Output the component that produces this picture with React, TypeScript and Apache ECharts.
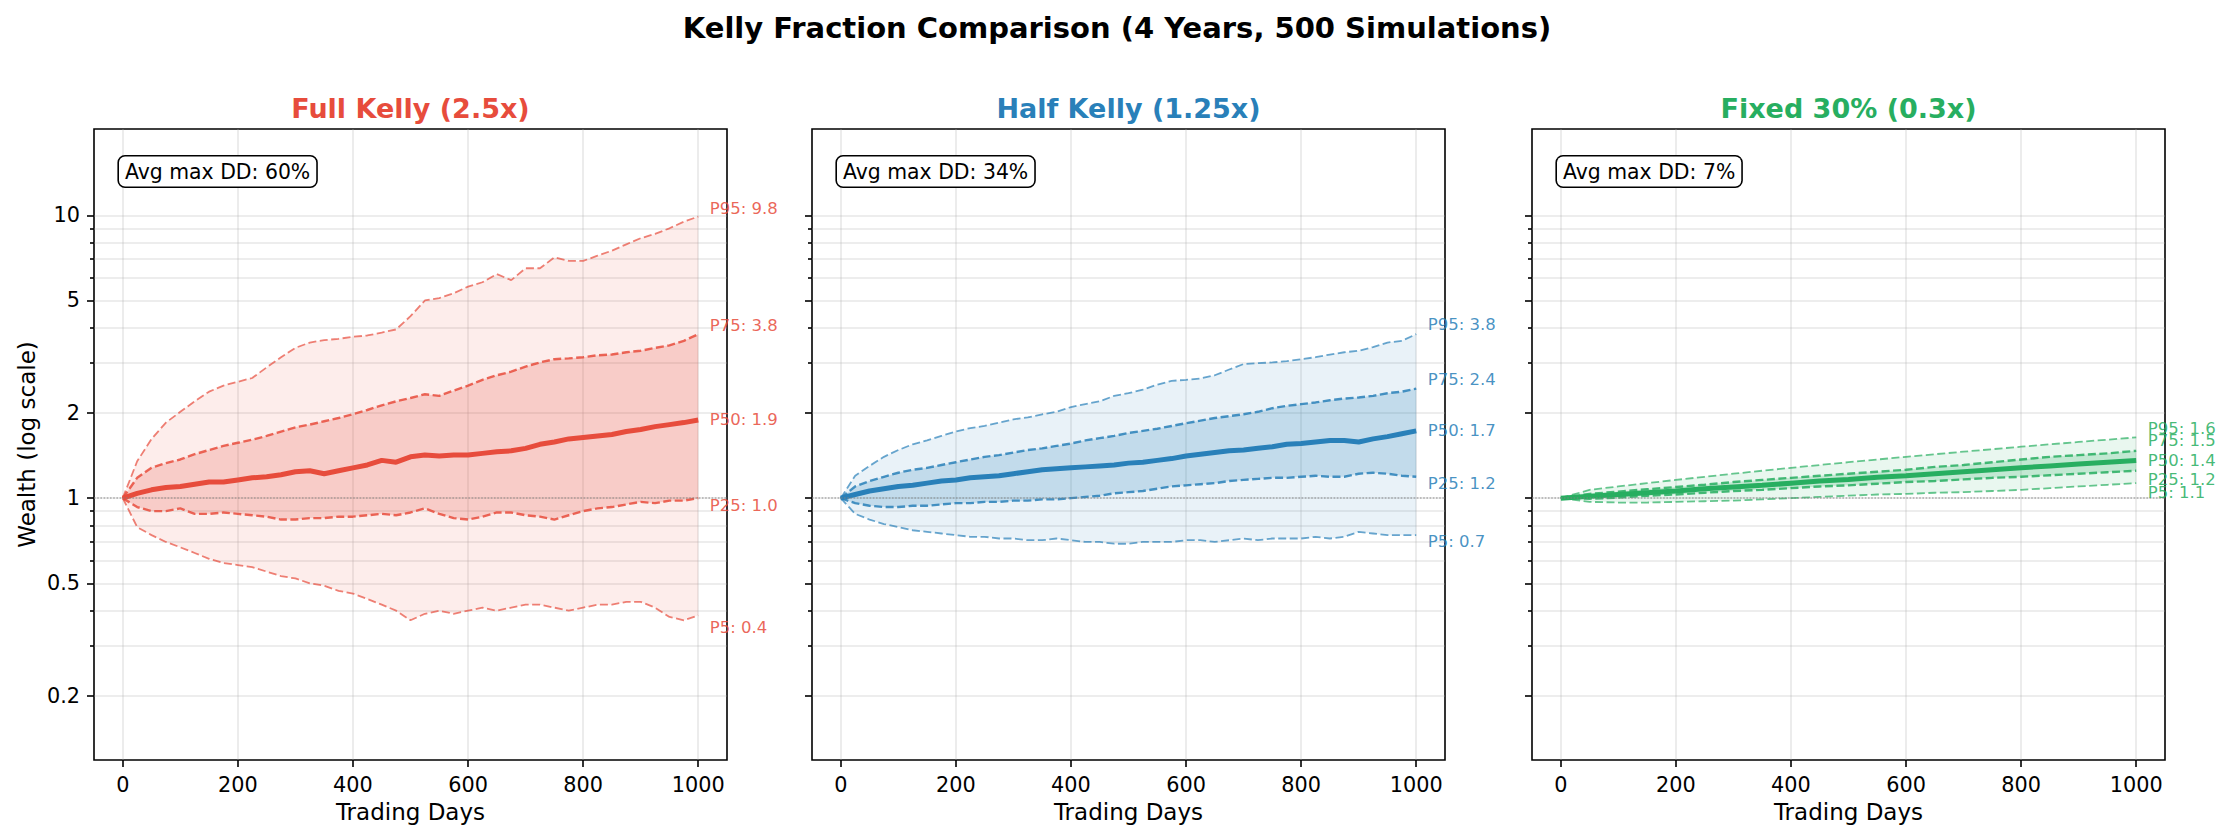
import React, { useEffect, useRef } from "react";
import * as echarts from "echarts";

// ---------- data ----------
const days = [0, 25, 50, 75, 100, 125, 150, 175, 200, 225, 250, 275, 300, 325, 350, 375, 400, 425, 450, 475, 500, 525, 550, 575, 600, 625, 650, 675, 700, 725, 750, 775, 800, 825, 850, 875, 900, 925, 950, 975, 1000];
const daysFixed = [0, 50, 100, 150, 200, 250, 300, 350, 400, 450, 500, 550, 600, 650, 700, 750, 800, 850, 900, 950, 1000];

const fullP95 = [1.0, 1.35, 1.62, 1.85, 2.02, 2.2, 2.38, 2.5, 2.58, 2.66, 2.9, 3.15, 3.4, 3.55, 3.62, 3.66, 3.72, 3.76, 3.85, 3.95, 4.4, 5.0, 5.1, 5.3, 5.6, 5.8, 6.2, 5.9, 6.5, 6.5, 7.1, 6.9, 6.9, 7.2, 7.5, 7.9, 8.3, 8.6, 9.0, 9.5, 9.9];
const fullP75 = [1.0, 1.18, 1.28, 1.33, 1.37, 1.43, 1.48, 1.53, 1.57, 1.61, 1.66, 1.72, 1.78, 1.82, 1.87, 1.92, 1.98, 2.05, 2.13, 2.2, 2.26, 2.33, 2.3, 2.4, 2.5, 2.62, 2.72, 2.8, 2.92, 3.02, 3.1, 3.12, 3.15, 3.2, 3.22, 3.28, 3.32, 3.4, 3.47, 3.6, 3.8];
const fullP50 = [1.0, 1.04, 1.07, 1.09, 1.1, 1.12, 1.14, 1.14, 1.16, 1.18, 1.19, 1.21, 1.24, 1.25, 1.22, 1.25, 1.28, 1.31, 1.36, 1.34, 1.4, 1.42, 1.41, 1.42, 1.42, 1.44, 1.46, 1.47, 1.5, 1.55, 1.58, 1.62, 1.64, 1.66, 1.68, 1.72, 1.75, 1.79, 1.82, 1.85, 1.89];
const fullP25 = [1.0, 0.93, 0.9, 0.9, 0.92, 0.88, 0.88, 0.89, 0.88, 0.87, 0.86, 0.84, 0.84, 0.85, 0.85, 0.86, 0.86, 0.87, 0.88, 0.87, 0.89, 0.92, 0.88, 0.85, 0.84, 0.86, 0.89, 0.89, 0.87, 0.86, 0.84, 0.87, 0.9, 0.92, 0.93, 0.95, 0.97, 0.96, 0.98, 0.98, 1.0];
const fullP5 = [1.0, 0.79, 0.74, 0.7, 0.67, 0.64, 0.61, 0.59, 0.58, 0.57, 0.55, 0.53, 0.52, 0.5, 0.49, 0.47, 0.46, 0.44, 0.42, 0.4, 0.37, 0.39, 0.4, 0.39, 0.4, 0.41, 0.4, 0.41, 0.42, 0.42, 0.41, 0.4, 0.41, 0.42, 0.42, 0.43, 0.43, 0.41, 0.38, 0.37, 0.385];

const halfP95 = [1.0, 1.2, 1.3, 1.4, 1.48, 1.55, 1.6, 1.66, 1.72, 1.77, 1.8, 1.85, 1.9, 1.93, 1.98, 2.02, 2.1, 2.15, 2.2, 2.3, 2.35, 2.42, 2.52, 2.6, 2.62, 2.65, 2.72, 2.85, 2.98, 3.0, 3.02, 3.05, 3.1, 3.15, 3.22, 3.28, 3.32, 3.42, 3.55, 3.6, 3.8];
const halfP75 = [1.0, 1.1, 1.15, 1.19, 1.23, 1.26, 1.28, 1.31, 1.34, 1.37, 1.4, 1.42, 1.45, 1.48, 1.5, 1.53, 1.56, 1.6, 1.63, 1.66, 1.7, 1.73, 1.76, 1.8, 1.84, 1.88, 1.92, 1.95, 1.98, 2.02, 2.08, 2.12, 2.15, 2.18, 2.22, 2.25, 2.27, 2.3, 2.35, 2.38, 2.44];
const halfP50 = [1.0, 1.03, 1.06, 1.08, 1.1, 1.11, 1.13, 1.15, 1.16, 1.18, 1.19, 1.2, 1.22, 1.24, 1.26, 1.27, 1.28, 1.29, 1.3, 1.31, 1.33, 1.34, 1.36, 1.38, 1.41, 1.43, 1.45, 1.47, 1.48, 1.5, 1.52, 1.55, 1.56, 1.58, 1.6, 1.6, 1.58, 1.62, 1.65, 1.69, 1.73];
const halfP25 = [1.0, 0.96, 0.94, 0.93, 0.93, 0.94, 0.94, 0.95, 0.96, 0.96, 0.97, 0.97, 0.98, 0.98, 0.99, 0.99, 1.0, 1.01, 1.02, 1.04, 1.05, 1.06, 1.08, 1.1, 1.11, 1.12, 1.13, 1.15, 1.16, 1.17, 1.18, 1.18, 1.19, 1.2, 1.19, 1.19, 1.22, 1.23, 1.22, 1.2, 1.19];
const halfP5 = [1.0, 0.88, 0.84, 0.81, 0.79, 0.77, 0.76, 0.75, 0.74, 0.73, 0.73, 0.72, 0.72, 0.71, 0.71, 0.72, 0.71, 0.7, 0.7, 0.69, 0.69, 0.7, 0.7, 0.7, 0.71, 0.71, 0.7, 0.71, 0.72, 0.71, 0.72, 0.72, 0.72, 0.73, 0.72, 0.73, 0.76, 0.75, 0.74, 0.74, 0.74];

const fixedP95 = [1.0, 1.07, 1.1, 1.13, 1.16, 1.19, 1.22, 1.25, 1.28, 1.31, 1.34, 1.37, 1.4, 1.43, 1.46, 1.49, 1.52, 1.55, 1.58, 1.61, 1.64];
const fixedP75 = [1.0, 1.035, 1.055, 1.075, 1.095, 1.115, 1.14, 1.16, 1.18, 1.2, 1.22, 1.24, 1.26, 1.29, 1.31, 1.34, 1.37, 1.4, 1.42, 1.44, 1.47];
const fixedP50 = [1.0, 1.015, 1.03, 1.045, 1.06, 1.08, 1.095, 1.11, 1.13, 1.15, 1.165, 1.185, 1.2, 1.22, 1.24, 1.26, 1.28, 1.3, 1.32, 1.34, 1.36];
const fixedP25 = [1.0, 0.995, 1.005, 1.02, 1.03, 1.045, 1.06, 1.07, 1.085, 1.1, 1.11, 1.125, 1.14, 1.15, 1.165, 1.18, 1.19, 1.205, 1.22, 1.235, 1.25];
const fixedP5 = [1.0, 0.97, 0.965, 0.965, 0.97, 0.975, 0.98, 0.99, 1.0, 1.01, 1.02, 1.03, 1.035, 1.045, 1.05, 1.06, 1.07, 1.085, 1.1, 1.115, 1.13];

const percentileNames = ["P95", "P75", "P50", "P25", "P5"];
const fullEndTexts = ["9.8", "3.8", "1.9", "1.0", "0.4"];
const halfEndTexts = ["3.8", "2.4", "1.7", "1.2", "0.7"];
const fixedEndTexts = ["1.6", "1.5", "1.4", "1.2", "1.1"];
const fullLabelAnchors = [10.6, 4.09, 1.89, 0.94, 0.35];
const halfLabelAnchors = [4.12, 2.63, 1.73, 1.13, 0.7];
const fixedLabelAnchors = [1.77, 1.6, 1.355, 1.167, 1.05];
const labelDay = 1020;

const panelTitles = ["Full Kelly (2.5x)", "Half Kelly (1.25x)", "Fixed 30% (0.3x)"];
const panelColors = ["#e74c3c", "#2980b9", "#27ae60"];
const avgMaxDD = ["60%", "34%", "7%"];
const suptitle = "Kelly Fraction Comparison (4 Years, 500 Simulations)";

const xTicks = [0, 200, 400, 600, 800, 1000];
const yMajorTicks = [0.2, 0.5, 1, 2, 5, 10];
const yMinorTicks = [0.3, 0.4, 0.6, 0.7, 0.8, 0.9, 3, 4, 6, 7, 8, 9];

// ---------- layout ----------
const FONT = '"DejaVu Sans", "Liberation Sans", sans-serif';
const GRID_LEFTS = [94, 812, 1532];
const GRID_TOP = 129;
const GRID_W = 633;
const GRID_H = 631;
const Y_MIN = 0.1186;
const Y_MAX = 20.2;

function rgba(hex: string, a: number) {
  const n = parseInt(hex.slice(1), 16);
  return `rgba(${(n >> 16) & 255},${(n >> 8) & 255},${n & 255},${a})`;
}

function buildOption() {
  const panels = [
    { x: days, p95: fullP95, p75: fullP75, p50: fullP50, p25: fullP25, p5: fullP5, texts: fullEndTexts, anchors: fullLabelAnchors },
    { x: days, p95: halfP95, p75: halfP75, p50: halfP50, p25: halfP25, p5: halfP5, texts: halfEndTexts, anchors: halfLabelAnchors },
    { x: daysFixed, p95: fixedP95, p75: fixedP75, p50: fixedP50, p25: fixedP25, p5: fixedP5, texts: fixedEndTexts, anchors: fixedLabelAnchors },
  ];

  const gridLine = { color: "#b0b0b0", opacity: 0.3, width: 1.6 };
  const tickLine = { color: "#000", width: 1.6 };

  const grid = GRID_LEFTS.map((l) => ({
    left: l, top: GRID_TOP, width: GRID_W, height: GRID_H,
    show: true, borderColor: "#000", borderWidth: 1.6, backgroundColor: "transparent",
  }));

  const xAxis = GRID_LEFTS.map((_, i) => ({
    type: "value", gridIndex: i, min: -50, max: 1050,
    name: "Trading Days", nameLocation: "middle", nameGap: 40,
    nameTextStyle: { fontSize: 23, fontFamily: FONT, color: "#000" },
    axisLine: { show: false, onZero: false },
    axisTick: { show: true, length: 7, lineStyle: tickLine, customValues: xTicks },
    axisLabel: {
      show: true, customValues: xTicks, fontSize: 20.8, fontFamily: FONT, color: "#000", margin: 14,
      formatter: (v: number) => String(v),
    },
    splitLine: { show: true, lineStyle: gridLine },
  }));

  const yAxis: any[] = [];
  GRID_LEFTS.forEach((_, i) => {
    yAxis.push({
      type: "log", logBase: 10, gridIndex: i, position: "left", min: Y_MIN, max: Y_MAX,
      name: i === 0 ? "Wealth (log scale)" : "", nameLocation: "middle", nameGap: 56,
      nameTextStyle: { fontSize: 23, fontFamily: FONT, color: "#000" },
      axisLine: { show: false, onZero: false },
      axisTick: { show: true, length: 7, lineStyle: tickLine, customValues: yMajorTicks },
      axisLabel: {
        show: i === 0, customValues: yMajorTicks, fontSize: 20.8, fontFamily: FONT, color: "#000", margin: 14,
        formatter: (v: number) => String(+Number(v).toPrecision(3)),
      },
      splitLine: { show: true, lineStyle: gridLine },
    });
    yAxis.push({
      type: "log", logBase: 10, gridIndex: i, position: "left", min: Y_MIN, max: Y_MAX,
      axisLine: { show: false, onZero: false },
      axisTick: { show: true, length: 4, lineStyle: tickLine, customValues: yMinorTicks },
      axisLabel: { show: false },
      splitLine: { show: true, lineStyle: gridLine },
    });
  });

  const series: any[] = [];
  panels.forEach((pn, i) => {
    const c = panelColors[i];
    const base = { type: "line", xAxisIndex: i, yAxisIndex: 2 * i, symbol: "none", silent: true, animation: false, smooth: false };
    const pts = (ys: number[]) => pn.x.map((d, k) => [d, ys[k]]);

    const band = (hi: number[], lo: number[], alpha: number) => ({
      type: "custom", coordinateSystem: "cartesian2d", xAxisIndex: i, yAxisIndex: 2 * i,
      silent: true, animation: false, z: 1,
      data: [[pn.x[0], lo[0]]],
      renderItem: (_params: any, api: any) => {
        const up = pn.x.map((d, k) => api.coord([d, hi[k]]));
        const dn = pn.x.map((d, k) => api.coord([d, lo[k]])).reverse();
        return { type: "polygon", shape: { points: up.concat(dn) }, style: { fill: rgba(c, alpha), stroke: "none" } };
      },
    });
    series.push(band(pn.p95, pn.p5, 0.1));
    series.push(band(pn.p75, pn.p25, 0.2));

    const lines = [pn.p95, pn.p75, pn.p50, pn.p25, pn.p5];
    lines.forEach((ys, k) => {
      const isMed = k === 2;
      const isOuter = k === 0 || k === 4;
      const s: any = {
        ...base,
        name: `${percentileNames[k]}-${i}`,
        data: pts(ys),
        z: isMed ? 4 : 3,
        lineStyle: isMed
          ? { color: c, width: 5 }
          : { color: c, width: isOuter ? 1.8 : 2.4, type: [8, 3.5], opacity: isOuter ? 0.7 : 0.85 },
        markPoint: {
          silent: true, symbol: "circle", symbolSize: 0, animation: false,
          data: [{
            coord: [labelDay, pn.anchors[k]],
            label: {
              show: true, position: "right", distance: 0,
              formatter: `${percentileNames[k]}: ${pn.texts[k]}`,
              color: rgba(c, 0.85), fontSize: 16.5, fontFamily: FONT,
            },
          }],
        },
      };
      if (isMed) {
        s.markLine = {
          silent: true, symbol: "none", animation: false, label: { show: false },
          lineStyle: { type: "dotted", color: "#808080", opacity: 0.6, width: 1.6 },
          data: [{ yAxis: 1 }],
        };
      }
      series.push(s);
    });
  });

  const graphic: any[] = [
    {
      type: "text", x: 1117, y: 28, z: 100,
      style: { text: suptitle, fontSize: 29, fontWeight: "bold", fontFamily: FONT, fill: "#000", align: "center", verticalAlign: "middle" },
    },
  ];
  GRID_LEFTS.forEach((l, i) => {
    graphic.push({
      type: "text", x: l + GRID_W / 2, y: 108, z: 100,
      style: { text: panelTitles[i], fontSize: 27, fontWeight: "bold", fontFamily: FONT, fill: panelColors[i], align: "center", verticalAlign: "middle" },
    });
    graphic.push({
      type: "text", x: l + 25, y: 171.5, z: 100,
      style: {
        text: `Avg max DD: ${avgMaxDD[i]}`, fontSize: 20.4, fontFamily: FONT, fill: "#000",
        align: "left", verticalAlign: "middle",
        backgroundColor: "#fff", borderColor: "#000", borderWidth: 1.6, borderRadius: 6, padding: [5, 6],
      },
    });
  });

  return { animation: false, backgroundColor: "#fff", grid, xAxis, yAxis, series, graphic };
}

export default function App() {
  const ref = useRef<HTMLDivElement>(null);
  useEffect(() => {
    if (!ref.current) return;
    const chart = echarts.init(ref.current, undefined, { renderer: "svg" });
    chart.setOption(buildOption() as any);
    return () => chart.dispose();
  }, []);
  return <div ref={ref} style={{ position: "fixed", left: 0, top: 0, width: 2230, height: 840 }} />;
}
